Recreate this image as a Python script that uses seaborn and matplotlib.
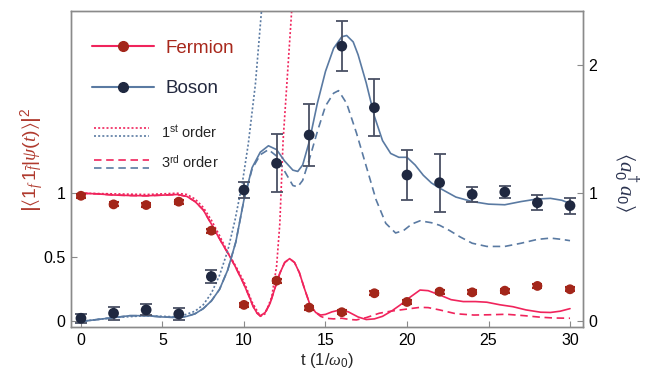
import numpy as np
import pandas as pd
import matplotlib
matplotlib.use("Agg")
from matplotlib import pyplot as plt
from matplotlib.lines import Line2D
from matplotlib.legend_handler import HandlerBase
import seaborn as sns

sns.set_style("ticks", {"xtick.direction": "in", "ytick.direction": "in"})
plt.rcParams['font.family'] = ['Liberation Sans', 'DejaVu Sans']
plt.rcParams['mathtext.fontset'] = 'custom'
plt.rcParams['mathtext.rm'] = 'Liberation Sans'
plt.rcParams['mathtext.sf'] = 'Liberation Sans'
plt.rcParams['mathtext.it'] = 'Liberation Serif:italic'
plt.rcParams['mathtext.fallback'] = 'stix'

# measured points
t_exp = [0, 2, 4, 6, 8, 10, 12, 14, 16, 18, 20, 22, 24, 26, 28, 30]
fermion = [0.98, 0.913, 0.908, 0.934, 0.708, 0.129, 0.318, 0.108, 0.072, 0.22,
           0.152, 0.232, 0.227, 0.24, 0.277, 0.251]
fermion_err = [0.015, 0.015, 0.015, 0.015, 0.015, 0.015, 0.015, 0.015, 0.015, 0.015,
               0.015, 0.015, 0.015, 0.015, 0.015, 0.015]
boson = [0.025, 0.064, 0.09, 0.058, 0.35, 1.025, 1.233, 1.454, 2.147, 1.667,
         1.142, 1.082, 0.991, 1.009, 0.926, 0.903]
boson_err = [0.035, 0.052, 0.043, 0.048, 0.05, 0.06, 0.225, 0.24, 0.194, 0.22,
             0.192, 0.225, 0.06, 0.05, 0.058, 0.062]

# theory curves
t_bos = [0, 1, 2, 3, 4, 5, 6, 6.5, 7, 7.5, 8, 8.5, 9, 9.5, 10, 10.5, 11, 11.5, 12,
         12.5, 13, 13.3, 13.6, 14, 14.5, 15, 15.5, 16, 16.3, 16.7, 17, 17.5, 18,
         18.5, 19, 19.5, 20, 20.5, 21, 21.5, 22, 23, 24, 25, 26, 27, 28, 28.8, 29.5, 30]
bos_full = [0.0, 0.015, 0.03, 0.045, 0.045, 0.035, 0.03, 0.04, 0.06, 0.1, 0.16, 0.25,
            0.4, 0.62, 0.95, 1.2, 1.32, 1.37, 1.34, 1.25, 1.18, 1.17, 1.22, 1.4, 1.7,
            1.95, 2.13, 2.22, 2.23, 2.18, 2.08, 1.86, 1.6, 1.41, 1.31, 1.28, 1.28, 1.22,
            1.14, 1.08, 1.04, 0.97, 0.935, 0.915, 0.91, 0.935, 0.955, 0.96, 0.945, 0.92]

t_bos3 = [0, 1, 2, 3, 4, 5, 6, 6.5, 7, 7.5, 8, 8.5, 9, 9.5, 10, 10.5, 11, 11.5, 12,
          12.5, 13, 13.3, 13.6, 14, 14.5, 15, 15.5, 15.8, 16.3, 16.9, 17.5, 18.1, 18.7,
          19.3, 19.8, 20.3, 20.8, 21.5, 22, 22.6, 23.25, 24, 24.9, 26, 27, 28, 28.8, 29.5, 30]
bos_3rd = [0.0, 0.015, 0.03, 0.045, 0.045, 0.035, 0.03, 0.04, 0.06, 0.1, 0.16, 0.25,
           0.4, 0.62, 0.95, 1.19, 1.3, 1.34, 1.29, 1.17, 1.06, 1.05, 1.1, 1.26, 1.48,
           1.68, 1.78, 1.8, 1.7, 1.47, 1.21, 0.95, 0.765, 0.69, 0.71, 0.76, 0.785, 0.77,
           0.75, 0.71, 0.66, 0.61, 0.585, 0.585, 0.61, 0.64, 0.65, 0.64, 0.63]

t_bos1 = [0, 2, 4, 6, 7, 7.5, 8, 8.5, 9, 9.45, 9.9, 10.27, 10.7, 11.08, 11.4]
bos_1st = [0.0, 0.03, 0.045, 0.035, 0.08, 0.13, 0.22, 0.36, 0.55, 0.79, 1.08, 1.39,
           1.85, 2.43, 2.9]

t_fer = [0, 1, 2, 3, 4, 5, 5.9, 6.5, 7, 7.5, 8, 8.3, 8.7, 9.14, 9.5, 9.96, 10.3, 10.57,
         10.8, 11.0, 11.3, 11.6, 11.9, 12.2, 12.5, 12.8, 13.1, 13.4, 13.7, 14.05, 14.4,
         14.7, 15.0, 15.4, 15.9, 16.4, 17, 17.5, 18, 18.5, 19.1, 19.6, 20.2, 20.8, 21.3,
         22, 22.7, 23.45, 24.2, 24.9, 25.7, 26.5, 27.3, 28.2, 28.8, 29.4, 30]
fer_full = [1.0, 0.995, 0.986, 0.982, 0.98, 0.985, 0.99, 0.975, 0.935, 0.87, 0.76, 0.69,
            0.6, 0.505, 0.42, 0.3, 0.2, 0.115, 0.065, 0.043, 0.07, 0.14, 0.26, 0.376,
            0.46, 0.49, 0.46, 0.38, 0.26, 0.13, 0.07, 0.05, 0.055, 0.075, 0.09, 0.075,
            0.035, 0.015, 0.02, 0.04, 0.085, 0.13, 0.19, 0.245, 0.24, 0.207, 0.17, 0.155,
            0.155, 0.15, 0.13, 0.115, 0.09, 0.072, 0.07, 0.08, 0.1]

t_fer3 = [0, 1, 2, 3, 4, 5, 5.9, 6.5, 7, 7.5, 8, 8.3, 8.7, 9.14, 9.5, 9.96, 10.3, 10.57,
          10.8, 11.0, 11.3, 11.6, 11.9, 12.2, 12.5, 12.8, 13.1, 13.4, 13.7, 14.05, 14.4,
          14.7, 15, 15.5, 16, 16.5, 16.9, 17.5, 18.3, 19, 19.6, 20.8, 21.3, 22, 23, 24.1,
          25, 26.1, 27.2, 28.2, 29, 30]
fer_3rd = [1.0, 0.995, 0.986, 0.982, 0.98, 0.985, 0.99, 0.975, 0.935, 0.87, 0.76, 0.69,
           0.6, 0.505, 0.42, 0.3, 0.2, 0.115, 0.065, 0.043, 0.07, 0.14, 0.26, 0.376,
           0.46, 0.49, 0.46, 0.38, 0.26, 0.13, 0.07, 0.04, 0.025, 0.02, 0.025, 0.015,
           0.012, 0.03, 0.064, 0.08, 0.09, 0.11, 0.108, 0.09, 0.06, 0.05, 0.052, 0.056,
           0.045, 0.033, 0.027, 0.025]

t_fer1 = [0, 2, 4, 5, 5.9, 6.5, 7, 7.5, 8, 8.5, 9, 9.5, 10, 10.5, 11, 11.3, 11.7, 12.0,
          12.2, 12.4, 12.93, 13.2]
fer_1st = [1.0, 0.995, 0.99, 0.995, 1.0, 0.99, 0.955, 0.89, 0.79, 0.67, 0.54, 0.43,
           0.31, 0.15, 0.04, 0.06, 0.19, 0.43, 0.765, 1.41, 2.43, 2.9]

x_ticks = [0, 5, 10, 15, 20, 25, 30]
left_ticks = [0, 0.5, 1]
left_labels = ["0", "0.5", "1"]
right_ticks = [0, 1, 2]
right_labels = ["0", "1", "2"]

fer_line = "#f0245c"
fer_dot = "#a3261a"
bos_line = "#5a7aa2"
bos_dot = "#1f2840"
err_col = "#4a5064"
dotted = (0, (1.2, 1.3))
dashed = (0, (4.5, 2.8))

fig = plt.figure(figsize=(6.5, 3.71), dpi=100)
ax = fig.add_axes([0.109, 0.118, 0.788, 0.852])
ax2 = ax.twinx()

sns.lineplot(x=t_fer, y=fer_full, ax=ax, color=fer_line, lw=1.2)
sns.lineplot(x=t_fer3, y=fer_3rd, ax=ax, color=fer_line, lw=1.2, linestyle=dashed)
sns.lineplot(x=t_fer1, y=fer_1st, ax=ax, color=fer_line, lw=1.2, linestyle=dotted)
sns.lineplot(x=t_bos, y=bos_full, ax=ax2, color=bos_line, lw=1.2)
sns.lineplot(x=t_bos3, y=bos_3rd, ax=ax2, color=bos_line, lw=1.2, linestyle=dashed)
sns.lineplot(x=t_bos1, y=bos_1st, ax=ax2, color=bos_line, lw=1.2, linestyle=dotted)

ax.errorbar(t_exp, fermion, yerr=fermion_err, fmt='none', ecolor=fer_dot,
            elinewidth=1.5, capsize=3.5, capthick=1.5, zorder=4)
ax2.errorbar(t_exp, boson, yerr=boson_err, fmt='none', ecolor=err_col,
             elinewidth=1.3, capsize=4, capthick=1.3, zorder=4)
sns.scatterplot(x=t_exp, y=fermion, ax=ax, color=fer_dot, s=50, edgecolor='none', zorder=5)
sns.scatterplot(x=t_exp, y=boson, ax=ax2, color=bos_dot, s=60, edgecolor='none', zorder=5)

for a in (ax, ax2):
    a.set_xlim(-0.62, 30.8)
    a.set_ylim(-0.045, 2.42)
    for s in a.spines.values():
        s.set_color("#8a8a8a")
        s.set_linewidth(1.0)
    a.tick_params(direction='in', length=4, color="#8a8a8a", labelsize=11.5,
                  labelcolor="black", pad=4)

ax.set_xticks(x_ticks)
ax.set_yticks(left_ticks)
ax.set_yticklabels(left_labels)
ax2.set_yticks(right_ticks)
ax2.set_yticklabels(right_labels)

ax.set_xlabel(r"t (1/$\omega_0$)", fontsize=12)
ax.xaxis.set_label_coords(0.5, -0.075)
ax.set_ylabel(r"$\left|\langle 1_f\, 1_{\bar{f}}|\psi(t)\rangle\right|^2$",
              fontsize=14, color="#b03a2e")
ax.yaxis.set_label_coords(-0.048, 0.53)
ax2.set_ylabel(r"$\langle a_0^\dagger a_0\rangle$", fontsize=15, color="#2b3350",
               rotation=270, va='center')
ax2.yaxis.set_label_coords(1.085, 0.46)


class StackedHandler(HandlerBase):
    def create_artists(self, legend, orig_handle, xdescent, ydescent, width, height,
                       fontsize, trans):
        out = []
        ymid = height / 2 - ydescent
        for k, h in enumerate(orig_handle):
            y = ymid + (3.1 if k == 0 else -3.1)
            ln = Line2D([-xdescent, -xdescent + width], [y, y])
            ln.update_from(h)
            ln.set_transform(trans)
            out.append(ln)
        return out


h_fer = Line2D([], [], color=fer_line, lw=1.5, marker='o', ms=7, mfc=fer_dot, mec=fer_dot)
h_bos = Line2D([], [], color=bos_line, lw=1.5, marker='o', ms=7, mfc=bos_dot, mec=bos_dot)
leg1 = ax2.legend([h_fer, h_bos], ["Fermion", "Boson"], loc='upper left',
                  bbox_to_anchor=(0.041, 0.91), frameon=False, fontsize=13.5,
                  handlelength=3.3, handletextpad=0.65, labelspacing=1.25,
                  borderpad=0, borderaxespad=0)
leg1.get_texts()[0].set_color("#a8281c")
leg1.get_texts()[1].set_color("#23293f")
ax2.add_artist(leg1)

p1 = Line2D([], [], color=fer_line, lw=1.2, linestyle=dotted)
b1 = Line2D([], [], color=bos_line, lw=1.2, linestyle=dotted)
p3 = Line2D([], [], color=fer_line, lw=1.2, linestyle=dashed)
b3 = Line2D([], [], color=bos_line, lw=1.2, linestyle=dashed)
ax2.legend([(p1, b1), (p3, b3)], [r"1$^{\mathrm{st}}$ order", r"3$^{\mathrm{rd}}$ order"],
           handler_map={tuple: StackedHandler()}, loc='upper left',
           bbox_to_anchor=(0.045, 0.645), frameon=False, fontsize=10.5,
           handlelength=3.8, handletextpad=0.8, labelspacing=1.0,
           borderpad=0, borderaxespad=0)

plt.savefig("out.png", dpi=100)
